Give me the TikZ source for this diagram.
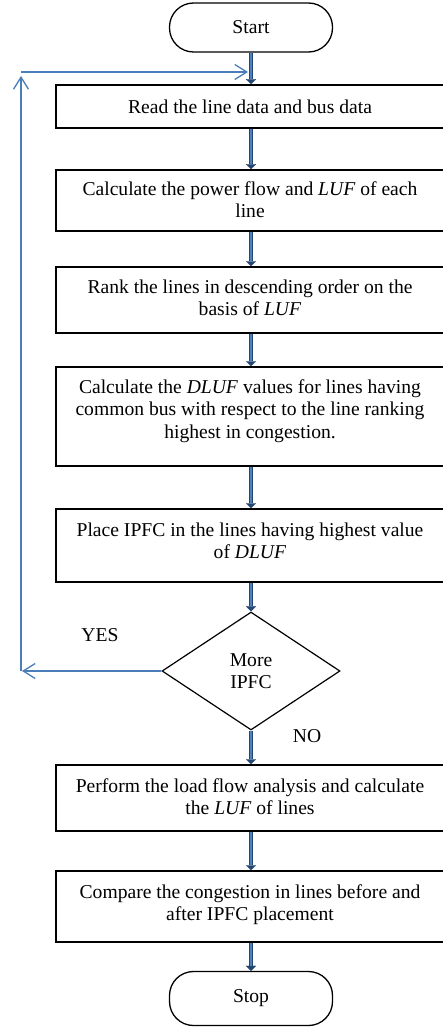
\documentclass[tikz,border=0pt]{standalone}
\usepackage{fontspec}
\setmainfont{Liberation Serif}
\usetikzlibrary{shapes.geometric,arrows.meta}
\definecolor{flowdark}{HTML}{24456F}
\definecolor{flowlight}{HTML}{4F81BD}
\definecolor{loopblue}{HTML}{4A7EBB}
\begin{document}
\begin{tikzpicture}[x=1pt,y=1pt,
  every node/.style={font=\fontsize{19.6}{22.5}\selectfont},
  term/.style={draw, line width=1.3pt, rounded corners=24pt, minimum width=163pt, inner sep=0},
  stepbox/.style={draw, line width=1.5pt, minimum width=390pt, inner sep=0},
  steptext/.style={anchor=north, align=center, inner sep=0},
  decision/.style={diamond, draw, line width=1.2pt, minimum width=178pt, minimum height=118pt,
    inner sep=0, align=center, aspect=1.5},
  flow/.style={draw=flowdark, line width=4pt,
    -{Triangle[width=10pt,length=5pt,line width=0.1pt]},
    postaction={draw=flowlight, line width=1.3pt, -, shorten >=5pt}},
  back/.style={draw=loopblue, line width=1.3pt, -{Straight Barb[length=12pt,width=15pt]}}
]
\useasboundingbox (0,0) rectangle (443,-1027);
\clip (0,0) rectangle (443,-1027);

% terminals
\node[term, minimum height=49pt] (start) at (251,-27.5) {Start};
\node[term, minimum height=54pt] (stop) at (251,-998.5) {Stop};

% process boxes
\node[stepbox, minimum height=43pt] (read) at (251,-106.5) {};
\node[stepbox, minimum height=61pt] (calc) at (251,-200.5) {};
\node[stepbox, minimum height=66pt] (rank) at (251,-300) {};
\node[stepbox, minimum height=99pt] (dluf) at (251,-416.5) {};
\node[stepbox, minimum height=73pt] (place) at (251,-545.5) {};
\node[stepbox, minimum height=66pt] (load) at (251,-798) {};
\node[stepbox, minimum height=71pt] (comp) at (251,-906.5) {};

% box texts, set from the top of each box
\node[steptext, yshift=-15pt] (readtxt) at ([xshift=-1pt]read.north) {Read the line data and bus data};
\node[steptext, yshift=-12pt] (calctxt) at ([xshift=-1pt]calc.north)
  {Calculate the power flow and \textit{LUF} of each\\line};
\node[steptext, yshift=-13pt] (ranktxt) at ([xshift=-1pt]rank.north)
  {Rank the lines in descending order on the\\basis of \textit{LUF}};
\node[steptext, yshift=-13pt] (dluftxt) at ([xshift=-1pt]dluf.north)
  {Calculate the \textit{DLUF} values for lines having\\common bus with respect to the line ranking\\highest in congestion.};
\node[steptext, yshift=-14pt] (placetxt) at ([xshift=-1pt]place.north)
  {Place IPFC in the lines having highest value\\of \textit{DLUF}};
\node[steptext, yshift=-14pt] (loadtxt) at ([xshift=-1pt]load.north)
  {Perform the load flow analysis and calculate\\the \textit{LUF} of lines};
\node[steptext, yshift=-14pt] (comptxt) at ([xshift=-1pt]comp.north)
  {Compare the congestion in lines before and\\after IPFC placement};

% decision
\node[decision] (dec) at (251,-671) {More\\IPFC};
\node (yes) at (100,-635) {YES};
\node (no) at (307,-736) {NO};

% main flow
\draw[flow] (start) -- (read);
\draw[flow] (read) -- (calc);
\draw[flow] (calc) -- (rank);
\draw[flow] (rank) -- (dluf);
\draw[flow] (dluf) -- (place);
\draw[flow] (place.south) -- (dec.north);
\draw[flow] (dec.south) -- (load);
\draw[flow] (load) -- (comp);
\draw[flow] (comp) -- (stop);

% loop back to the start of the process
\coordinate (loopw) at (22,-671);
\coordinate (loopb) at (21,-671);
\coordinate (loopt) at (21,-76);
\coordinate (loopc) at (21,-72);
\coordinate (loope) at (248,-72);
\draw[back] (dec.west) -- (loopw);
\draw[back] (loopb) -- (loopt);
\draw[back] (loopc) -- (loope);
\end{tikzpicture}
\end{document}
